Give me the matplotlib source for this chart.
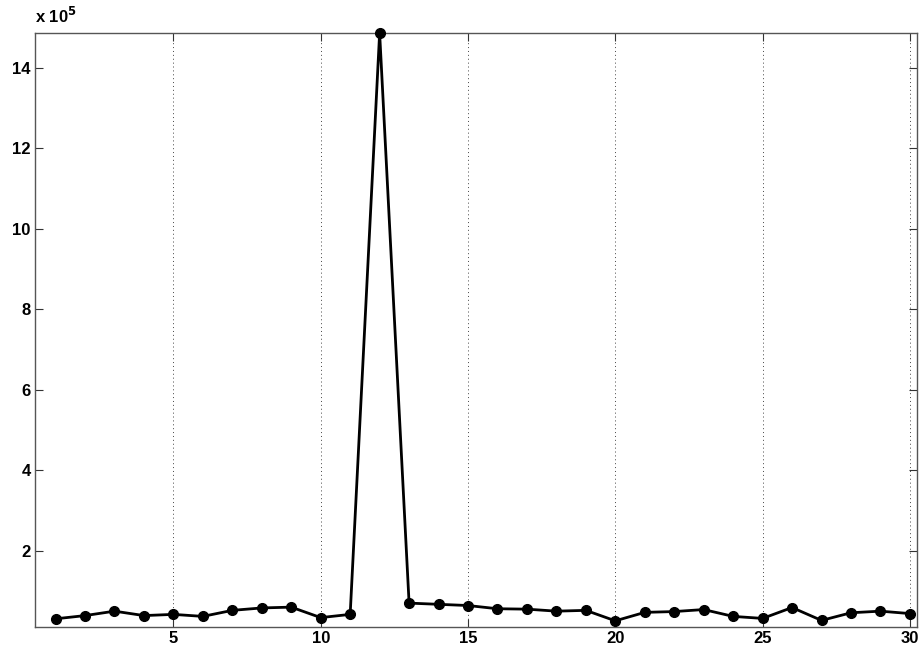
import matplotlib.pyplot as plt
from matplotlib.ticker import FuncFormatter

# Per-index values (raw counts)
idx = list(range(1, 31))
values = [31000, 39000, 50000, 39000, 42000, 37000, 52000, 58000, 60000, 34000,
          42000, 1486000, 70000, 67000, 64000, 56000, 55000, 50000, 52000, 26000,
          47000, 49000, 54000, 37000, 32000, 59000, 27000, 46000, 50000, 44000]
xticks = [5, 10, 15, 20, 25, 30]
yticks = [200000, 400000, 600000, 800000, 1000000, 1200000, 1400000]

plt.rcParams['font.family'] = ['Liberation Sans', 'DejaVu Sans']
plt.rcParams['font.weight'] = 'bold'

fig = plt.figure(figsize=(9.2, 6.48), dpi=100)
ax = fig.add_axes([0.038, 0.032, 0.9587, 0.917])

ax.plot(idx, values, color='black', linewidth=2.0, marker='o', markersize=7,
        clip_on=False, zorder=3)

ax.set_xlim(0.3, 30.24)
ax.set_ylim(10000, 1486000)
ax.set_xticks(xticks)
ax.set_yticks(yticks)
ax.yaxis.set_major_formatter(FuncFormatter(lambda v, p: f'{v / 1e5:g}'))

ax.grid(axis='x', color='#444444', linestyle=(0, (1, 3)), linewidth=0.7)
ax.tick_params(direction='in', length=5.5, width=0.8, top=True, right=True,
               labelsize=12, pad=3, colors='#333333', labelcolor='black')
for s in ax.spines.values():
    s.set_color('#555555')
    s.set_linewidth(1.0)

fig.text(0.038, 0.975, r'x 10$^{5}$', fontsize=12, fontweight='bold',
         ha='left', va='center')

fig.savefig('out.png', dpi=100)
